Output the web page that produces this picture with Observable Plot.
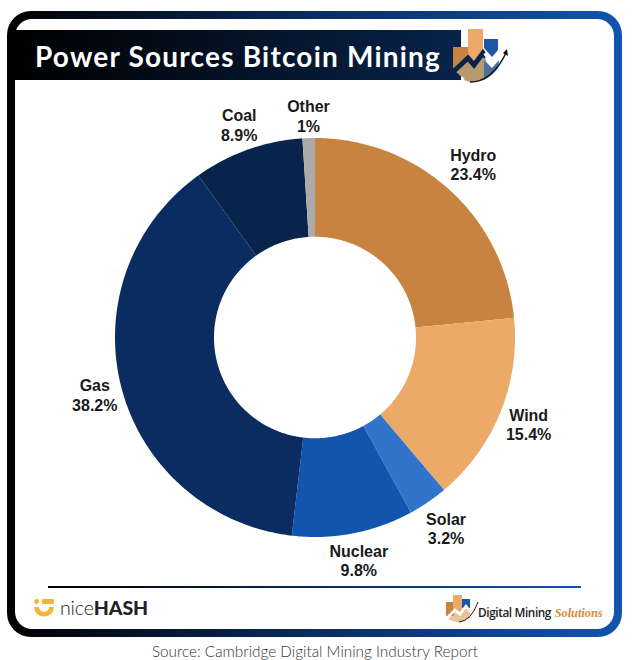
<!DOCTYPE html>
<html>
<head>
<meta charset="utf-8">
<script src="https://cdn.jsdelivr.net/npm/d3@7"></script>
<script src="https://cdn.jsdelivr.net/npm/@observablehq/plot@0.6"></script>
<style>
html,body{margin:0;padding:0;background:#fff;}
#page{position:relative;width:633px;height:660px;overflow:hidden;font-family:Inter,sans-serif;}
#frame{position:absolute;left:7px;top:11px;width:615px;height:626px;box-sizing:border-box;border-radius:24px;padding:8px;
  background:linear-gradient(90deg,#000 0%,#0a2c60 50%,#1254ae 100%);}
#frame>div{width:100%;height:100%;background:#fff;border-radius:17px;}
#band{position:absolute;left:14px;top:30px;width:447px;height:50px;background:linear-gradient(90deg,#000 0%,#08244b 100%);}
#title{position:absolute;left:35px;top:38px;font:700 28px/36px Lato,sans-serif;color:#fff;letter-spacing:1.2px;white-space:nowrap;}
#logo{position:absolute;left:430px;top:20px;}
#rule{position:absolute;left:48px;top:586px;width:533px;height:2px;background:linear-gradient(90deg,#000,#1254ae);}
#nh{position:absolute;left:60px;top:595px;font:300 19.5px/26px Lato,sans-serif;color:#222;letter-spacing:-.1px;white-space:nowrap;}
#nh b{font-weight:900;letter-spacing:-.1px;}
#nhlogo{position:absolute;left:33px;top:598px;}
#dm{position:absolute;left:478px;top:604px;font:600 11.8px/16px "Open Sans",sans-serif;color:#222;letter-spacing:-.4px;white-space:nowrap;}
#dm i{font:italic 700 12.3px/16px "Liberation Serif",serif;color:#d68a3c;letter-spacing:0;margin-left:1px;}
#dmlogo{position:absolute;left:445px;top:593px;}
#source{position:absolute;left:0;width:630px;text-align:center;top:641px;font:300 15.3px/20px Lato,sans-serif;color:#333;}
#chart{position:absolute;left:0;top:0;}
</style>
</head>
<body>
<div id="page">
  <div id="frame"><div></div></div>
  <div id="band"></div>
  <div id="title">Power Sources Bitcoin Mining</div>
  <svg id="logo" width="90" height="70" viewBox="0 0 90 70">
    <path d="M34 60 L40 38 L54 34 L60 55 L54 60 Q42 64 34 60Z" fill="#b99a6f"/>
    <rect x="23" y="27" width="15" height="25" fill="#c98340"/>
    <rect x="38" y="9" width="15" height="34" fill="#ebaa67"/>
    <path d="M54 19 H68 V30 L62 37 L54 28 Z" fill="#1d56a8"/>
    <path d="M26 52 L38 42 L44 49 L53 37 L54 60 Q38 64 26 52Z" fill="#b99a6f"/>
    <path d="M54 40 L62 48 L69 40 L68 48 Q62 56 54 60 Z" fill="#4a6f9e"/>
    <path d="M23 52 L38 38 L44 45 L53 33 L56 37" fill="none" stroke="#08244b" stroke-width="5"/>
    <path d="M55 33 L62 42 L70 33" fill="none" stroke="#fff" stroke-width="4"/>
    <path d="M40 62 Q62 62 76 33" fill="none" stroke="#111" stroke-width="1.5"/>
    <path d="M77 29 L78 36 L73 33 Z" fill="#111"/>
  </svg>
  <div id="rule"></div>
  <svg id="nhlogo" width="22" height="20" viewBox="0 0 22 20">
    <rect x="1" y="1" width="5" height="5" rx="2.5" fill="#f6b43c"/>
    <rect x="9" y="1" width="12" height="5" rx="1" fill="#f6b43c"/>
    <path d="M1 9 L6 9 A5 5 0 0 0 16 9 L21 9 A10 9.5 0 0 1 1 9 Z" fill="#f6b43c"/>
  </svg>
  <div id="nh">nice<b>HASH</b></div>
  <svg id="dmlogo" width="34" height="32" viewBox="0 0 34 32">
    <path d="M3 26 L10 19 L15 23 L21 15 L25 19 L25 25 Q14 33 3 26Z" fill="#e8c49a"/>
    <rect x="1" y="9" width="8" height="14" fill="#c98340"/>
    <rect x="8" y="2" width="9" height="17" fill="#ebaa67"/>
    <rect x="17" y="6" width="8" height="9" fill="#1d56a8"/>
    <path d="M2 25 L10 17 L15 21 L21 13 L25 18 L31 10" fill="none" stroke="#fff" stroke-width="2.5"/>
    <path d="M14 29 Q26 28 33 9" fill="none" stroke="#222" stroke-width="1"/>
  </svg>
  <div id="dm">Digital Mining <i>Solutions</i></div>
  <div id="source">Source: Cambridge Digital Mining Industry Report</div>
  <div id="chart"></div>
</div>
<script>
const sources = ["Hydro","Wind","Solar","Nuclear","Gas","Coal","Other"];
const shares = [23.4,15.4,3.2,9.8,38.2,8.9,1];
const labels = ["23.4%","15.4%","3.2%","9.8%","38.2%","8.9%","1%"];
const colors = ["#c98340","#ebaa67","#3273cc","#1254ae","#0a2c60","#08244b","#ababab"];

const holeRatio = 0.505;
const labelRadius = [1.175,1.15,1.155,1.135,1.14,1.135,1.115];
const total = d3.sum(shares);

// cumulative angular extent of each share, walked along the circle
let cum = 0;
const sectors = sources.map((name,i)=>{
  const start = cum/total*2*Math.PI; cum += shares[i];
  return {name, start, end: cum/total*2*Math.PI, label: labels[i], radius: labelRadius[i]};
});
const ring = sectors.flatMap(s=>{
  const n = Math.max(4, Math.ceil((s.end-s.start)/0.01));
  return d3.range(n+1).map(k=>{
    const a = s.start+(s.end-s.start)*k/n;
    return {name:s.name, x1:Math.sin(a), y1:Math.cos(a), x2:holeRatio*Math.sin(a), y2:holeRatio*Math.cos(a)};
  });
});
const labelRows = sectors.map(s=>{
  const a=(s.start+s.end)/2;
  return {text:`${s.name}\n${s.label}`, x:s.radius*Math.sin(a), y:s.radius*Math.cos(a)};
});

const chart = Plot.plot({
  width:633, height:660,
  marginLeft:115, marginRight:118, marginTop:138, marginBottom:123,
  x:{domain:[-1,1],axis:null},
  y:{domain:[-1,1],axis:null},
  color:{domain:sources,range:colors},
  style:{background:"transparent",overflow:"visible"},
  marks:[
    Plot.area(ring,{x1:"x1",y1:"y1",x2:"x2",y2:"y2",z:"name",fill:"name",curve:"linear",clip:false}),
    Plot.text(labelRows,{x:"x",y:"y",text:"text",lineHeight:1.23,fontSize:16,fontWeight:700,fontFamily:"Liberation Sans",fill:"#1a1a1a",clip:false})
  ]
});
document.getElementById("chart").append(chart);
</script>
</body>
</html>
